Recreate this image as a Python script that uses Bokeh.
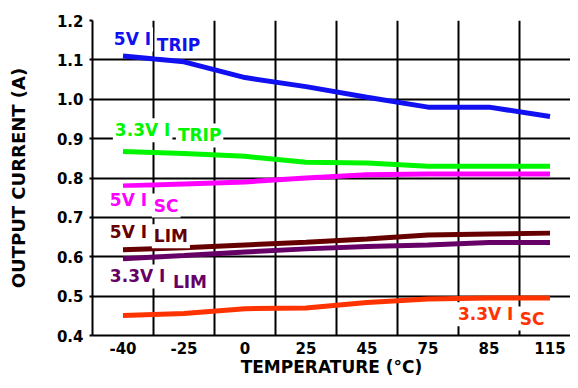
from bokeh.plotting import figure
from bokeh.models import FixedTicker, Label, ColumnDataSource, Range1d
from bokeh.embed import file_html
from bokeh.resources import INLINE

# ---- data ----
temps = ["-40", "-25", "0", "25", "45", "75", "85", "115"]
itrip_5v = [1.11, 1.095, 1.055, 1.032, 1.005, 0.98, 0.98, 0.956]
itrip_33v = [0.867, 0.862, 0.855, 0.84, 0.838, 0.83, 0.83, 0.83]
isc_5v = [0.78, 0.785, 0.79, 0.80, 0.808, 0.81, 0.81, 0.81]
ilim_5v = [0.618, 0.623, 0.63, 0.637, 0.645, 0.655, 0.658, 0.66]
ilim_33v = [0.595, 0.603, 0.612, 0.62, 0.626, 0.63, 0.636, 0.636]
isc_33v = [0.451, 0.456, 0.468, 0.47, 0.484, 0.493, 0.495, 0.495]
y_ticks = [0.4, 0.5, 0.6, 0.7, 0.8, 0.9, 1.0, 1.1, 1.2]

idx = list(range(len(temps)))

FONT = "DejaVu Sans"

p = figure(width=570, height=380, output_backend="svg", toolbar_location=None,
           x_range=Range1d(-0.5, 7.336), y_range=Range1d(0.4, 1.2),
           min_border_left=92, min_border_top=20, min_border_bottom=45,
           min_border_right=0)
p.outline_line_color = None
p.background_fill_color = "white"
p.border_fill_color = "white"

# grid
p.xgrid.ticker = FixedTicker(ticks=[i + 0.5 for i in idx])
p.ygrid.ticker = FixedTicker(ticks=y_ticks)
for g in (p.xgrid, p.ygrid):
    g.grid_line_color = "black"
    g.grid_line_width = 2
    g.grid_line_alpha = 1.0

# x axis
p.xaxis.ticker = FixedTicker(ticks=idx)
p.xaxis.major_label_overrides = {i: t for i, t in zip(idx, temps)}
p.xaxis.major_tick_out = 0
p.xaxis.major_tick_in = 0
p.xaxis.minor_tick_out = 0
p.xaxis.minor_tick_in = 0
p.xaxis.axis_line_width = 2
p.xaxis.axis_line_color = "black"
p.xaxis.major_label_standoff = 6
p.xaxis.axis_label = "TEMPERATURE (°C)"
p.xaxis.axis_label_standoff = 0

# y axis
p.yaxis.ticker = FixedTicker(ticks=y_ticks)
p.yaxis.major_label_overrides = {v: f"{v:.1f}" for v in y_ticks}
p.yaxis.major_tick_out = 3
p.yaxis.major_tick_in = 0
p.yaxis.minor_tick_out = 0
p.yaxis.minor_tick_in = 0
p.yaxis.major_tick_line_width = 2
p.yaxis.axis_line_width = 2
p.yaxis.axis_line_color = "black"
p.yaxis.major_label_standoff = 6
p.yaxis.axis_label = "OUTPUT CURRENT (A)"
p.yaxis.axis_label_standoff = 25

for ax in (p.xaxis, p.yaxis):
    ax.major_label_text_font = FONT
    ax.major_label_text_font_style = "bold"
    ax.major_label_text_font_size = "15px"
    ax.major_label_text_color = "black"
    ax.axis_label_text_font = FONT
    ax.axis_label_text_font_style = "bold"
    ax.axis_label_text_font_size = "17px"
    ax.axis_label_text_color = "black"
p.yaxis.axis_label_text_font_size = "18px"

series = [
    (itrip_5v, "#1010F0"),
    (itrip_33v, "#00F500"),
    (isc_5v, "#FF00FF"),
    (ilim_5v, "#660000"),
    (ilim_33v, "#660066"),
    (isc_33v, "#FF3300"),
]
for vals, col in series:
    src = ColumnDataSource(dict(x=idx, y=vals))
    p.line("x", "y", source=src, line_color=col, line_width=5)

# labels: (main text, sub text, color, main x, main y, sub x, sub y)
labels = [
    ("5V I", "TRIP", "#1010F0", -0.183, 1.152, 0.522, 1.139),
    ("3.3V I", "TRIP", "#00F500", -0.166, 0.921, 0.867, 0.908),
    ("5V I", "SC", "#FF00FF", -0.248, 0.745, 0.473, 0.730),
    ("5V I", "LIM", "#660000", -0.248, 0.664, 0.473, 0.652),
    ("3.3V I", "LIM", "#660066", -0.248, 0.550, 0.785, 0.535),
    ("3.3V I", "SC", "#FF3300", 5.457, 0.454, 6.473, 0.443),
]
for main, sub, col, mx, my, sx, sy in labels:
    for txt, x, y in ((main, mx, my), (sub, sx, sy)):
        p.add_layout(Label(x=x, y=y, text=txt, text_color=col,
                           text_font=FONT, text_font_style="bold",
                           text_font_size="17px", text_baseline="alphabetic",
                           background_fill_color="white",
                           padding=2))

open("out.html", "w").write(file_html(p, INLINE))
